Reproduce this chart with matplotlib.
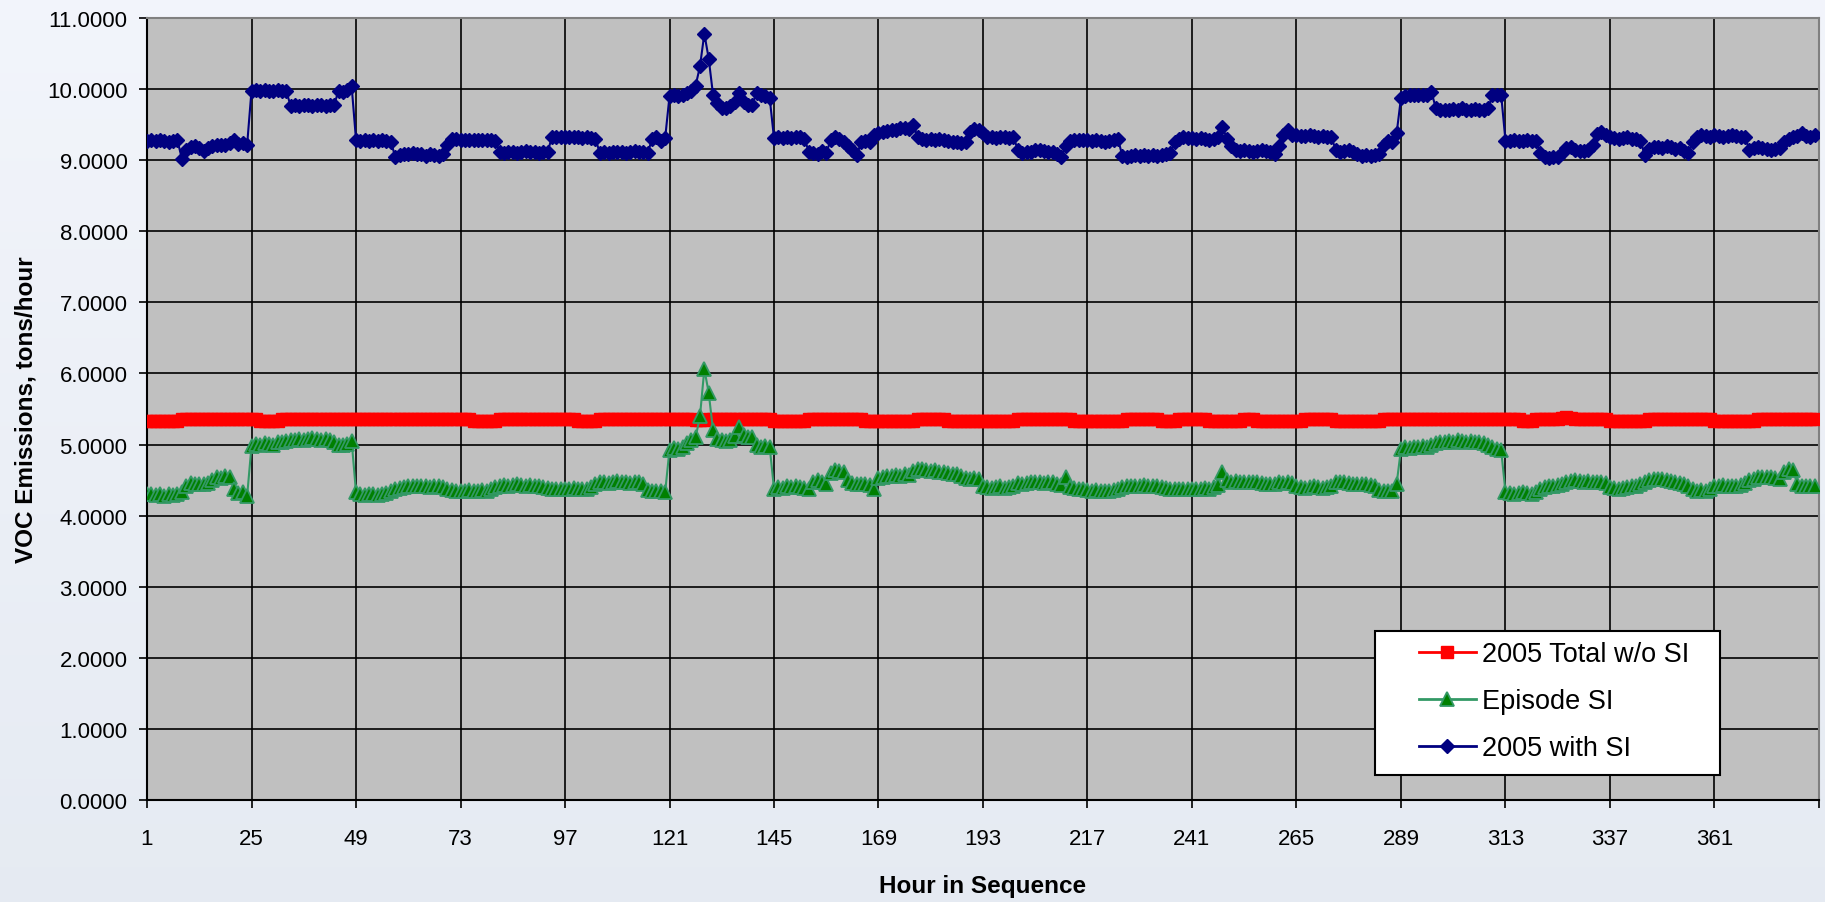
import numpy as np
import matplotlib

matplotlib.use("Agg")
import matplotlib.pyplot as plt
from matplotlib.patches import Rectangle

# hourly values, one row per 24-hour day (hours 1..384)
total_wo_si = [
    5.33, 5.33, 5.33, 5.33, 5.33, 5.33, 5.33, 5.33, 5.36, 5.36, 5.36, 5.36, 5.36, 5.36, 5.36, 5.36, 5.36, 5.36, 5.36, 5.36, 5.36, 5.36, 5.36, 5.36,
    5.36, 5.36, 5.33, 5.33, 5.33, 5.33, 5.33, 5.36, 5.36, 5.36, 5.36, 5.36, 5.36, 5.36, 5.36, 5.36, 5.36, 5.36, 5.36, 5.36, 5.36, 5.36, 5.36, 5.36,
    5.36, 5.36, 5.36, 5.36, 5.36, 5.36, 5.36, 5.36, 5.36, 5.36, 5.36, 5.36, 5.36, 5.36, 5.36, 5.36, 5.36, 5.36, 5.36, 5.36, 5.36, 5.36, 5.36, 5.36,
    5.36, 5.36, 5.36, 5.33, 5.33, 5.33, 5.33, 5.33, 5.33, 5.36, 5.36, 5.36, 5.36, 5.36, 5.36, 5.36, 5.36, 5.36, 5.36, 5.36, 5.36, 5.36, 5.36, 5.36,
    5.36, 5.36, 5.36, 5.33, 5.33, 5.33, 5.33, 5.33, 5.36, 5.36, 5.36, 5.36, 5.36, 5.36, 5.36, 5.36, 5.36, 5.36, 5.36, 5.36, 5.36, 5.36, 5.36, 5.36,
    5.36, 5.36, 5.36, 5.36, 5.36, 5.36, 5.35, 5.35, 5.35, 5.36, 5.36, 5.36, 5.36, 5.36, 5.36, 5.36, 5.36, 5.36, 5.36, 5.36, 5.36, 5.36, 5.36, 5.36,
    5.33, 5.33, 5.33, 5.33, 5.33, 5.33, 5.33, 5.33, 5.36, 5.36, 5.36, 5.36, 5.36, 5.36, 5.36, 5.36, 5.36, 5.36, 5.36, 5.36, 5.36, 5.33, 5.33, 5.33,
    5.33, 5.33, 5.33, 5.33, 5.33, 5.33, 5.33, 5.33, 5.33, 5.36, 5.36, 5.36, 5.36, 5.36, 5.36, 5.36, 5.33, 5.33, 5.33, 5.33, 5.33, 5.33, 5.33, 5.33,
    5.33, 5.33, 5.33, 5.33, 5.33, 5.33, 5.33, 5.33, 5.36, 5.36, 5.36, 5.36, 5.36, 5.36, 5.36, 5.36, 5.36, 5.36, 5.36, 5.36, 5.36, 5.33, 5.33, 5.33,
    5.33, 5.33, 5.33, 5.33, 5.33, 5.33, 5.33, 5.33, 5.33, 5.36, 5.36, 5.36, 5.36, 5.36, 5.36, 5.36, 5.36, 5.33, 5.33, 5.33, 5.33, 5.36, 5.36, 5.36,
    5.36, 5.36, 5.36, 5.36, 5.33, 5.33, 5.33, 5.33, 5.33, 5.33, 5.33, 5.33, 5.36, 5.36, 5.36, 5.33, 5.33, 5.33, 5.33, 5.33, 5.33, 5.33, 5.33, 5.33,
    5.33, 5.33, 5.36, 5.36, 5.36, 5.36, 5.36, 5.36, 5.36, 5.33, 5.33, 5.33, 5.33, 5.33, 5.33, 5.33, 5.33, 5.33, 5.33, 5.33, 5.36, 5.36, 5.36, 5.36,
    5.36, 5.36, 5.36, 5.36, 5.36, 5.36, 5.36, 5.36, 5.36, 5.36, 5.36, 5.36, 5.36, 5.36, 5.36, 5.36, 5.36, 5.36, 5.36, 5.36, 5.36, 5.36, 5.36, 5.36,
    5.36, 5.36, 5.36, 5.36, 5.33, 5.33, 5.33, 5.36, 5.36, 5.36, 5.36, 5.36, 5.36, 5.37, 5.39, 5.37, 5.36, 5.36, 5.36, 5.36, 5.36, 5.36, 5.36, 5.36,
    5.33, 5.33, 5.33, 5.33, 5.33, 5.33, 5.33, 5.33, 5.33, 5.36, 5.36, 5.36, 5.36, 5.36, 5.36, 5.36, 5.36, 5.36, 5.36, 5.36, 5.36, 5.36, 5.36, 5.36,
    5.33, 5.33, 5.33, 5.33, 5.33, 5.33, 5.33, 5.33, 5.33, 5.33, 5.36, 5.36, 5.36, 5.36, 5.36, 5.36, 5.36, 5.36, 5.36, 5.36, 5.36, 5.36, 5.36, 5.36,
]

episode_si = [
    4.31, 4.30, 4.29, 4.31, 4.28, 4.30, 4.29, 4.31, 4.33, 4.42, 4.46, 4.45, 4.44, 4.45, 4.46, 4.50, 4.55, 4.53, 4.56, 4.54, 4.38, 4.32, 4.33, 4.28,
    4.98, 5.01, 5.00, 5.02, 5.01, 5.00, 5.03, 5.04, 5.05, 5.06, 5.07, 5.08, 5.07, 5.08, 5.09, 5.08, 5.07, 5.08, 5.06, 5.04, 5.00, 4.99, 5.01, 5.05,
    4.33, 4.30, 4.29, 4.31, 4.30, 4.29, 4.31, 4.32, 4.34, 4.37, 4.39, 4.40, 4.41, 4.42, 4.41, 4.42, 4.41, 4.40, 4.42, 4.41, 4.40, 4.38, 4.36, 4.35,
    4.34, 4.35, 4.36, 4.35, 4.34, 4.36, 4.35, 4.37, 4.40, 4.42, 4.43, 4.42, 4.43, 4.44, 4.43, 4.42, 4.43, 4.42, 4.41, 4.40, 4.39, 4.38, 4.38, 4.37,
    4.38, 4.37, 4.39, 4.38, 4.37, 4.38, 4.40, 4.45, 4.47, 4.48, 4.46, 4.47, 4.49, 4.48, 4.47, 4.46, 4.48, 4.47, 4.45, 4.36, 4.34, 4.35, 4.34, 4.33,
    4.93, 4.95, 4.94, 4.96, 5.02, 5.06, 5.10, 5.40, 6.06, 5.73, 5.20, 5.08, 5.06, 5.05, 5.06, 5.12, 5.25, 5.14, 5.10, 5.11, 5.00, 4.97, 4.98, 4.97,
    4.38, 4.40, 4.39, 4.41, 4.40, 4.42, 4.40, 4.39, 4.38, 4.47, 4.50, 4.48, 4.44, 4.60, 4.64, 4.63, 4.61, 4.50, 4.46, 4.45, 4.44, 4.45, 4.43, 4.37,
    4.53, 4.55, 4.56, 4.56, 4.57, 4.56, 4.58, 4.57, 4.63, 4.65, 4.66, 4.64, 4.63, 4.64, 4.62, 4.61, 4.60, 4.59, 4.58, 4.56, 4.53, 4.52, 4.53, 4.51,
    4.42, 4.40, 4.39, 4.40, 4.41, 4.39, 4.40, 4.41, 4.46, 4.44, 4.46, 4.47, 4.48, 4.47, 4.46, 4.48, 4.47, 4.45, 4.43, 4.54, 4.40, 4.39, 4.38, 4.37,
    4.36, 4.35, 4.36, 4.35, 4.34, 4.35, 4.36, 4.37, 4.40, 4.41, 4.42, 4.41, 4.42, 4.43, 4.41, 4.42, 4.41, 4.40, 4.39, 4.37, 4.38, 4.37, 4.38, 4.37,
    4.38, 4.37, 4.38, 4.39, 4.38, 4.40, 4.43, 4.62, 4.50, 4.48, 4.49, 4.48, 4.47, 4.48, 4.47, 4.48, 4.46, 4.45, 4.45, 4.44, 4.47, 4.46, 4.47, 4.46,
    4.42, 4.40, 4.39, 4.40, 4.41, 4.40, 4.39, 4.40, 4.42, 4.47, 4.48, 4.47, 4.46, 4.45, 4.44, 4.45, 4.44, 4.43, 4.42, 4.36, 4.35, 4.34, 4.35, 4.45,
    4.94, 4.96, 4.95, 4.97, 4.96, 4.98, 4.97, 4.99, 5.02, 5.03, 5.04, 5.05, 5.04, 5.06, 5.05, 5.04, 5.05, 5.04, 5.03, 5.02, 5.00, 4.96, 4.94, 4.92,
    4.33, 4.32, 4.31, 4.32, 4.33, 4.32, 4.31, 4.33, 4.38, 4.40, 4.41, 4.42, 4.43, 4.44, 4.48, 4.49, 4.50, 4.49, 4.48, 4.49, 4.48, 4.47, 4.48, 4.46,
    4.40, 4.39, 4.38, 4.39, 4.40, 4.41, 4.42, 4.44, 4.47, 4.50, 4.51, 4.52, 4.51, 4.50, 4.49, 4.48, 4.46, 4.45, 4.42, 4.37, 4.35, 4.36, 4.35, 4.37,
    4.41, 4.42, 4.43, 4.42, 4.41, 4.42, 4.43, 4.46, 4.50, 4.52, 4.54, 4.55, 4.54, 4.55, 4.53, 4.52, 4.62, 4.65, 4.64, 4.45, 4.42, 4.41, 4.42, 4.41,
]

with_si = [
    9.27, 9.28, 9.27, 9.29, 9.27, 9.26, 9.27, 9.28, 9.02, 9.14, 9.18, 9.20, 9.17, 9.13, 9.17, 9.20, 9.22, 9.22, 9.21, 9.24, 9.28, 9.23, 9.24, 9.22,
    9.98, 9.99, 9.98, 9.99, 9.98, 9.98, 9.99, 9.98, 9.97, 9.76, 9.77, 9.76, 9.77, 9.77, 9.76, 9.77, 9.77, 9.76, 9.77, 9.78, 9.98, 9.96, 9.99, 10.04,
    9.29, 9.27, 9.28, 9.27, 9.28, 9.27, 9.28, 9.27, 9.26, 9.05, 9.07, 9.08, 9.09, 9.10, 9.09, 9.08, 9.06, 9.08, 9.07, 9.06, 9.08, 9.22, 9.30, 9.30,
    9.29, 9.29, 9.28, 9.29, 9.28, 9.28, 9.29, 9.28, 9.27, 9.12, 9.10, 9.11, 9.12, 9.10, 9.11, 9.13, 9.11, 9.12, 9.10, 9.11, 9.12, 9.32, 9.33, 9.32,
    9.33, 9.32, 9.32, 9.33, 9.31, 9.32, 9.31, 9.30, 9.10, 9.11, 9.10, 9.11, 9.12, 9.11, 9.10, 9.12, 9.13, 9.12, 9.11, 9.10, 9.30, 9.33, 9.27, 9.31,
    9.90, 9.91, 9.90, 9.92, 9.95, 9.98, 10.05, 10.32, 10.78, 10.43, 9.92, 9.80, 9.74, 9.74, 9.76, 9.82, 9.94, 9.82, 9.78, 9.78, 9.95, 9.91, 9.90, 9.88,
    9.31, 9.32, 9.31, 9.32, 9.31, 9.32, 9.32, 9.30, 9.12, 9.10, 9.09, 9.13, 9.10, 9.28, 9.33, 9.30, 9.25, 9.20, 9.14, 9.07, 9.25, 9.27, 9.26, 9.36,
    9.38, 9.40, 9.41, 9.42, 9.42, 9.45, 9.45, 9.44, 9.49, 9.33, 9.30, 9.29, 9.30, 9.28, 9.30, 9.29, 9.27, 9.26, 9.25, 9.24, 9.26, 9.40, 9.44, 9.43,
    9.38, 9.33, 9.32, 9.31, 9.33, 9.32, 9.31, 9.32, 9.15, 9.10, 9.11, 9.12, 9.14, 9.15, 9.13, 9.12, 9.12, 9.08, 9.05, 9.20, 9.27, 9.29, 9.29, 9.28,
    9.29, 9.27, 9.28, 9.27, 9.26, 9.27, 9.28, 9.30, 9.06, 9.04, 9.06, 9.07, 9.06, 9.07, 9.06, 9.07, 9.06, 9.07, 9.08, 9.10, 9.25, 9.30, 9.32, 9.31,
    9.31, 9.30, 9.31, 9.30, 9.29, 9.30, 9.32, 9.47, 9.30, 9.20, 9.15, 9.13, 9.14, 9.13, 9.12, 9.13, 9.14, 9.13, 9.12, 9.08, 9.20, 9.35, 9.42, 9.35,
    9.35, 9.34, 9.34, 9.35, 9.34, 9.33, 9.34, 9.33, 9.32, 9.15, 9.12, 9.13, 9.14, 9.12, 9.08, 9.06, 9.07, 9.06, 9.07, 9.08, 9.22, 9.27, 9.26, 9.38,
    9.88, 9.90, 9.91, 9.92, 9.91, 9.92, 9.91, 9.96, 9.73, 9.70, 9.71, 9.70, 9.72, 9.71, 9.73, 9.70, 9.70, 9.72, 9.70, 9.71, 9.73, 9.91, 9.92, 9.92,
    9.27, 9.27, 9.28, 9.27, 9.27, 9.28, 9.27, 9.27, 9.10, 9.04, 9.03, 9.04, 9.05, 9.10, 9.17, 9.18, 9.15, 9.13, 9.13, 9.14, 9.22, 9.37, 9.39, 9.36,
    9.33, 9.31, 9.30, 9.31, 9.33, 9.30, 9.30, 9.27, 9.07, 9.16, 9.18, 9.19, 9.17, 9.20, 9.19, 9.16, 9.17, 9.13, 9.10, 9.25, 9.32, 9.35, 9.34, 9.33,
    9.35, 9.34, 9.33, 9.34, 9.35, 9.34, 9.33, 9.32, 9.15, 9.17, 9.18, 9.17, 9.16, 9.15, 9.16, 9.17, 9.25, 9.30, 9.33, 9.34, 9.38, 9.34, 9.33, 9.36,
]

series_labels = ["2005 Total w/o SI", "Episode SI", "2005 with SI"]
hour_ticks = [1, 25, 49, 73, 97, 121, 145, 169, 193, 217, 241, 265, 289, 313, 337, 361, 385]
hour_tick_labels = ["1", "25", "49", "73", "97", "121", "145", "169", "193", "217",
                    "241", "265", "289", "313", "337", "361", ""]


def add_background(fig):
    # soft sky-like wash behind the chart
    bg = fig.add_axes([0, 0, 1, 1], zorder=-10)
    top = np.array([0.95, 0.96, 0.985])
    bottom = np.array([0.90, 0.92, 0.95])
    t = np.linspace(0, 1, 256)[:, None]
    grad = top[None, :] * (1 - t) + bottom[None, :] * t
    bg.imshow(grad[:, None, :].repeat(4, axis=1), aspect="auto", extent=(0, 1, 0, 1))
    bg.set_axis_off()


def main():
    plt.rcParams["font.family"] = ["Liberation Sans", "DejaVu Sans"]
    fig = plt.figure(figsize=(18.25, 9.03), dpi=100)
    add_background(fig)
    ax = fig.add_axes([147 / 1825, 1 - 801 / 903, 1672 / 1825, 782 / 903])
    ax.set_facecolor("#C0C0C0")

    hours = np.arange(1, len(with_si) + 1)
    ax.plot(hours, total_wo_si, color="#FF0000", lw=2, marker="s", ms=9,
            mfc="#FF0000", mec="#FF0000", label=series_labels[0], zorder=3)
    ax.plot(hours, episode_si, color="#339966", lw=1.5, marker="^", ms=9.5,
            mfc="#008000", mec="#339966", mew=1.3, label=series_labels[1], zorder=4)
    ax.plot(hours, with_si, color="#000080", lw=1.5, marker="D", ms=7.5,
            mfc="#000080", mec="#000080", label=series_labels[2], zorder=5)

    ax.set_xlim(1, 385)
    ax.set_ylim(0, 11)
    ax.set_xticks(hour_ticks)
    ax.set_xticklabels(hour_tick_labels)
    ax.set_yticks(np.arange(0, 12))
    ax.yaxis.set_major_formatter(matplotlib.ticker.FormatStrFormatter("%.4f"))
    ax.grid(True, color="#000000", lw=1.2)
    ax.set_axisbelow(True)
    ax.tick_params(axis="both", length=6, width=1.2, color="#000000", labelsize=16)
    ax.tick_params(axis="x", pad=14)
    ax.tick_params(axis="y", pad=8)
    for side in ("left", "bottom"):
        ax.spines[side].set_color("#000000")
        ax.spines[side].set_linewidth(1.5)
    for side in ("top", "right"):
        ax.spines[side].set_color("#808080")
        ax.spines[side].set_linewidth(1.5)

    ax.set_xlabel("Hour in Sequence", fontsize=17.5, fontweight="bold", va="center")
    ax.xaxis.set_label_coords(0.5, (801 - 887) / 782)
    ax.set_ylabel("VOC Emissions, tons/hour", fontsize=17.5, fontweight="bold", va="center")
    ax.yaxis.set_label_coords((26 - 147) / 1672, 0.5)

    # white legend box drawn separately so its padding matches the original
    box = Rectangle(((1375 - 147) / 1672, (801 - 776) / 782), 345 / 1672, 144 / 782,
                    transform=ax.transAxes, facecolor="white", edgecolor="black",
                    lw=1.5, zorder=6)
    ax.add_patch(box)
    leg = ax.legend(loc="upper left", bbox_to_anchor=((1419 - 147) / 1672, (801 - 642) / 782),
                    frameon=False, fontsize=19.5, handlelength=2.1, handletextpad=0.22,
                    labelspacing=0.78, borderpad=0, borderaxespad=0)
    for line in leg.get_lines():
        line.set_linewidth(2)
    leg.set_zorder(7)

    fig.savefig("out.png", dpi=100)
    plt.close(fig)


if __name__ == "__main__":
    main()
